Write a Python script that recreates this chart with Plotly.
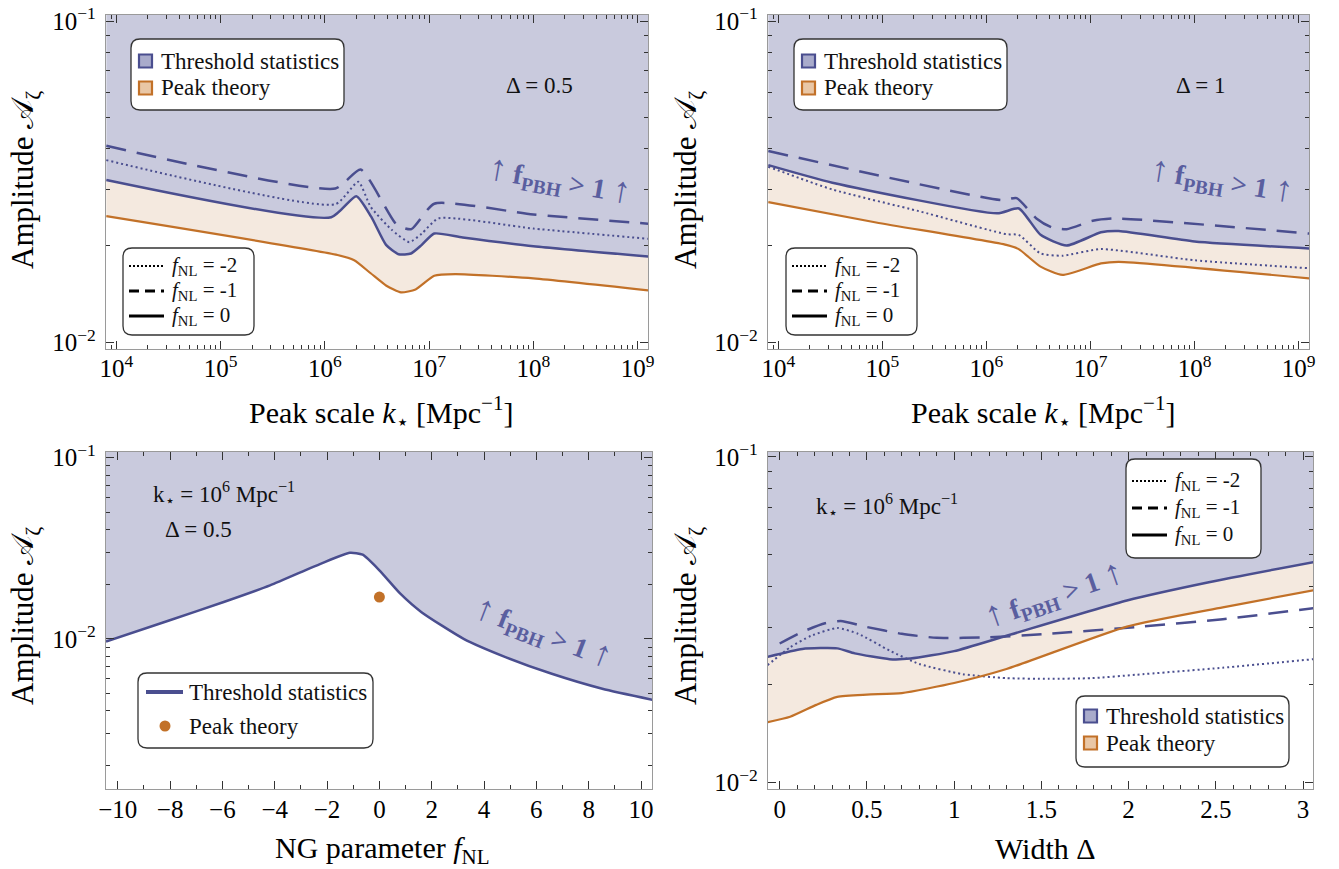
import plotly.graph_objects as go

W, H = 1339, 869
FONT = "Liberation Serif, DejaVu Serif, serif"

BLUE = "#4a4e8f"
LAV = "#c9cadd"
ORANGE = "#c27128"
PEACH = "#f4e9df"
TXT_BLUE = "#5a5e9f"
TOP = 1.0  # ceiling used to close the excluded (f_PBH > 1) region

# ---------------- top-left: Delta = 0.5 ----------------
k_a_f0 = [8.0e3, 1.15e6, 2.0e6, 2.78e6, 3.86e6, 5.1e6, 6.7e6, 8.5e6, 1.12e7, 2.1e7, 1.0e8, 1.26e9]
A_a_f0 = [0.0320, 0.0245, 0.0285, 0.0246, 0.0201, 0.0188, 0.0189, 0.0201, 0.0218, 0.0212, 0.0199, 0.0185]
k_a_fm2 = [8.0e3, 1.26e6, 2.09e6, 2.75e6, 4.37e6, 6.46e6, 8.5e6, 1.23e7, 1.0e8, 1.26e9]
A_a_fm2 = [0.0369, 0.0269, 0.0316, 0.0264, 0.0224, 0.0205, 0.0218, 0.0243, 0.0226, 0.0210]
k_a_fm1 = [8.0e3, 1.26e6, 2.2e6, 4.9e6, 6.76e6, 1.12e7, 1.0e8, 1.26e9]
A_a_fm1 = [0.0409, 0.0301, 0.0345, 0.0232, 0.0225, 0.0270, 0.0250, 0.0234]
k_a_pk = [8.0e3, 1.32e6, 1.91e6, 2.75e6, 3.89e6, 5.37e6, 7.41e6, 1.12e7, 1.78e7, 1.0e8, 1.26e9]
A_a_pk = [0.0247, 0.0187, 0.0180, 0.0164, 0.0150, 0.0143, 0.0146, 0.0161, 0.0163, 0.0158, 0.0145]

# ---------------- top-right: Delta = 1 ----------------
k_b_f0 = [8.0e3, 3.3e4, 1.27e6, 2.05e6, 3.31e6, 5.89e6, 1.26e7, 1.86e7, 1.0e8, 1.26e9]
A_b_f0 = [0.0356, 0.0314, 0.0252, 0.0261, 0.0216, 0.0200, 0.0220, 0.0222, 0.0206, 0.0196]
k_b_fm2 = [8.0e3, 3.3e4, 2.24e5, 1.55e6, 2.04e6, 3.31e6, 5.37e6, 1.26e7, 1.0e8, 1.26e9]
A_b_fm2 = [0.0352, 0.0299, 0.0256, 0.0217, 0.0216, 0.0189, 0.0186, 0.0195, 0.0180, 0.0170]
k_b_fm1 = [8.0e3, 1.4e6, 1.95e6, 3.02e6, 4.22e6, 5.89e6, 1.05e7, 1.7e7, 1.26e9]
A_b_fm1 = [0.0394, 0.0277, 0.0281, 0.0243, 0.0228, 0.0225, 0.0239, 0.0243, 0.0218]
k_b_pk = [8.0e3, 8.7e4, 1.55e6, 2.04e6, 3.31e6, 5.37e6, 1.26e7, 1.86e7, 1.26e9]
A_b_pk = [0.0273, 0.0236, 0.0201, 0.0195, 0.0172, 0.0162, 0.0176, 0.0178, 0.0158]

# ---------------- bottom-left: vs f_NL ----------------
fnl_c = [-10.45, -8.04, -5.95, -4.18, -2.25, -1.13, -0.64, 0.0, 0.8, 1.61, 3.22, 4.82, 6.59, 8.52, 10.45]
A_c_th = [0.00966, 0.01262, 0.01596, 0.01972, 0.02594, 0.02985, 0.02911, 0.02388,
          0.01774, 0.01403, 0.01000, 0.00793, 0.00641, 0.00530, 0.00460]
fnl_c_pk = [0.0]
A_c_pk = [0.0170]

# ---------------- bottom-right: vs width Delta ----------------
d_f0 = [-0.07, 0.13, 0.33, 0.43, 0.63, 0.75, 1.0, 1.30, 1.99, 2.46, 3.06]
A_d_f0 = [0.0243, 0.0257, 0.0258, 0.0249, 0.0239, 0.0240, 0.0253, 0.0282, 0.0362, 0.0412, 0.0475]
d_pk = [-0.07, 0.06, 0.21, 0.33, 0.50, 0.70, 1.0, 1.30, 1.99, 2.54, 3.06]
A_d_pk = [0.0153, 0.0159, 0.0173, 0.0183, 0.0186, 0.0188, 0.0202, 0.0223, 0.0301, 0.0345, 0.0389]
d_fm1 = [0.0, 0.13, 0.26, 0.35, 0.50, 0.70, 0.90, 1.20, 1.54, 2.04, 2.54, 3.06]
A_d_fm1 = [0.0267, 0.0290, 0.0308, 0.0313, 0.0300, 0.0286, 0.0278, 0.0279, 0.0286, 0.0300, 0.0317, 0.0343]
d_fm2 = [-0.07, 0.06, 0.18, 0.33, 0.45, 0.63, 0.80, 1.05, 1.30, 1.54, 1.79, 2.04, 2.54, 3.06]
A_d_fm2 = [0.0229, 0.0260, 0.0282, 0.0298, 0.0286, 0.0254, 0.0231, 0.0215, 0.0209,
           0.0208, 0.0209, 0.0214, 0.0225, 0.0239]

# tick decades
K_DECADES = [4, 5, 6, 7, 8, 9]
A_DECADES = [-2, -1]

fig = go.Figure()
SMOOTH = 0.55


def trace(x, y, xa, ya, **kw):
    fig.add_trace(go.Scatter(x=x, y=y, mode="lines", hoverinfo="skip", showlegend=False,
                             xaxis=xa, yaxis=ya, **kw))


def region_above(x, y, xa, ya):
    # invisible ceiling, then the threshold curve filled up to it
    trace(x, [TOP] * len(x), xa, ya, line=dict(width=0))
    trace(x, y, xa, ya, line=dict(width=0, shape="spline", smoothing=SMOOTH),
          fill="tonexty", fillcolor=LAV)


def band(x1, y1, x2, y2, xa, ya):
    trace(x1, y1, xa, ya, line=dict(width=0, shape="spline", smoothing=SMOOTH))
    trace(x2, y2, xa, ya, line=dict(width=0, shape="spline", smoothing=SMOOTH),
          fill="tonexty", fillcolor=PEACH)


def curve(x, y, xa, ya, color, width, dash="solid"):
    trace(x, y, xa, ya, line=dict(color=color, width=width, dash=dash,
                                  shape="spline", smoothing=SMOOTH))


DOT = "2px,3px"
DASH = "20px,11px"

# panel a
region_above(k_a_f0, A_a_f0, "x", "y")
band(k_a_f0, A_a_f0, k_a_pk, A_a_pk, "x", "y")
curve(k_a_fm2, A_a_fm2, "x", "y", BLUE, 2, DOT)
curve(k_a_fm1, A_a_fm1, "x", "y", BLUE, 2.5, DASH)
curve(k_a_f0, A_a_f0, "x", "y", BLUE, 2.5)
curve(k_a_pk, A_a_pk, "x", "y", ORANGE, 2.2)

# panel b
region_above(k_b_f0, A_b_f0, "x2", "y2")
band(k_b_f0, A_b_f0, k_b_pk, A_b_pk, "x2", "y2")
curve(k_b_fm2, A_b_fm2, "x2", "y2", BLUE, 2, DOT)
curve(k_b_fm1, A_b_fm1, "x2", "y2", BLUE, 2.5, DASH)
curve(k_b_f0, A_b_f0, "x2", "y2", BLUE, 2.5)
curve(k_b_pk, A_b_pk, "x2", "y2", ORANGE, 2.2)

# panel c
region_above(fnl_c, A_c_th, "x3", "y3")
curve(fnl_c, A_c_th, "x3", "y3", BLUE, 2.5)
fig.add_trace(go.Scatter(x=fnl_c_pk, y=A_c_pk, mode="markers",
                         marker=dict(color=ORANGE, size=11), hoverinfo="skip",
                         showlegend=False, xaxis="x3", yaxis="y3"))

# panel d
region_above(d_f0, A_d_f0, "x4", "y4")
band(d_f0, A_d_f0, d_pk, A_d_pk, "x4", "y4")
curve(d_fm2, A_d_fm2, "x4", "y4", BLUE, 2, DOT)
curve(d_fm1, A_d_fm1, "x4", "y4", BLUE, 2.5, DASH)
curve(d_f0, A_d_f0, "x4", "y4", BLUE, 2.5)
curve(d_pk, A_d_pk, "x4", "y4", ORANGE, 2.2)


def px(x):
    return x / W


def py(y):
    return 1 - y / H


def pow10_ticks(exps):
    vals = [10.0 ** e for e in exps]
    labels = ["10<sup>" + str(e).replace("-", "−") + "</sup>" for e in exps]
    return vals, labels


def log_minor_vals(lo, hi):
    return [m * 10.0 ** e for e in range(lo, hi) for m in range(2, 10)]


minor_base = dict(ticks="inside", ticklen=4, tickwidth=1, tickcolor="#333", showgrid=False)
base_axis = dict(showline=True, linecolor="#9a9a9a", linewidth=1.3, mirror="allticks",
                 ticks="inside", ticklen=8, tickwidth=1, tickcolor="#333",
                 showgrid=False, zeroline=False, automargin=False,
                 tickfont=dict(family=FONT, size=25, color="black"),
                 minor=minor_base)

kv, kt = pow10_ticks(K_DECADES)
av, at = pow10_ticks(A_DECADES)

logx = dict(base_axis, type="log", range=[3.9, 9.1], tickmode="array", tickvals=kv, ticktext=kt,
            ticklabelstandoff=-3,
            minor=dict(minor_base, tickmode="array", tickvals=log_minor_vals(3, 10)))
logy = dict(base_axis, type="log", tickmode="array", tickvals=av, ticktext=at,
            ticklabelstandoff=4,
            minor=dict(minor_base, tickmode="array", tickvals=log_minor_vals(-3, -1)))

fig.update_layout(
    width=W, height=H, autosize=False,
    margin=dict(l=0, r=0, t=0, b=0),
    paper_bgcolor="white", plot_bgcolor="white",
    showlegend=False,
    font=dict(family=FONT, color="black"),
    xaxis=dict(logx, domain=[px(106), px(648)], anchor="y"),
    yaxis=dict(logy, range=[-2.021, -0.981], domain=[py(349), py(15)], anchor="x"),
    xaxis2=dict(logx, domain=[px(768), px(1309)], anchor="y2"),
    yaxis2=dict(logy, range=[-2.021, -0.981], domain=[py(349), py(15)], anchor="x2"),
    xaxis3=dict(base_axis, range=[-10.45, 10.42], dtick=2, tick0=0,
                minor=dict(minor_base, dtick=1), ticklabelstandoff=-2,
                domain=[px(106), px(652)], anchor="y3"),
    yaxis3=dict(logy, range=[-2.829, -0.969], domain=[py(789), py(452)], anchor="x3"),
    xaxis4=dict(base_axis, range=[-0.067, 3.057], dtick=0.5, tick0=0,
                minor=dict(minor_base, dtick=0.1), ticklabelstandoff=-2,
                domain=[px(768), px(1313)], anchor="y4"),
    yaxis4=dict(logy, range=[-2.0205, -0.985], domain=[py(789), py(452)], anchor="x4"),
)

shapes = []
ann = []


def rbox(x0, y0, x1, y1, r=9):
    pts = (f"M {px(x0 + r)},{py(y0)} L {px(x1 - r)},{py(y0)} Q {px(x1)},{py(y0)} {px(x1)},{py(y0 + r)} "
           f"L {px(x1)},{py(y1 - r)} Q {px(x1)},{py(y1)} {px(x1 - r)},{py(y1)} "
           f"L {px(x0 + r)},{py(y1)} Q {px(x0)},{py(y1)} {px(x0)},{py(y1 - r)} "
           f"L {px(x0)},{py(y0 + r)} Q {px(x0)},{py(y0)} {px(x0 + r)},{py(y0)} Z")
    shapes.append(dict(type="path", path=pts, xref="paper", yref="paper",
                       fillcolor="white", line=dict(color="#333", width=1.3), layer="above"))


def text(x, y, s, size=23, anchor="left", color="#111", angle=0):
    ann.append(dict(x=px(x), y=py(y), xref="paper", yref="paper", text=s, showarrow=False,
                    xanchor=anchor, yanchor="middle", textangle=angle,
                    font=dict(family=FONT, size=size, color=color)))


def swatch(x, y, fill, edge, s=13):
    shapes.append(dict(type="rect", xref="paper", yref="paper", x0=px(x), x1=px(x + s),
                       y0=py(y - s / 2), y1=py(y + s / 2), fillcolor=fill,
                       line=dict(color=edge, width=2.2), layer="above"))


def sample(x0, x1, y, dash, width=3, color="black"):
    shapes.append(dict(type="line", xref="paper", yref="paper", x0=px(x0), x1=px(x1),
                       y0=py(y), y1=py(y), line=dict(color=color, width=width, dash=dash),
                       layer="above"))


FNL = ["<i>f</i><sub>NL</sub> = -2", "<i>f</i><sub>NL</sub> = -1", "<i>f</i><sub>NL</sub> = 0"]
LEG_DASH = ["2px,2px", "10px,6px", "solid"]
LEG_W = [2, 3, 3]
ARROW = "<span style='font-size:36px'>↑</span>"
PBH = ARROW + " <b>f<sub>PBH</sub> &gt; 1</b> " + ARROW
KSTAR = "k<sub>⋆</sub> = 10<sup>6</sup> Mpc<sup>−1</sup>"


def fill_legend(x0, y0, x1, y1, rows):
    rbox(x0, y0, x1, y1)
    swatch(x0 + 8, rows[0], "#a9abcb", BLUE)
    swatch(x0 + 8, rows[1], "#e9c7a6", ORANGE)
    text(x0 + 28, rows[0], "Threshold statistics")
    text(x0 + 28, rows[1], "Peak theory")


def line_legend(x0, y0, x1, y1, rows):
    rbox(x0, y0, x1, y1)
    for r, lab, d, w in zip(rows, FNL, LEG_DASH, LEG_W):
        sample(x0 + 6, x0 + 41, r, d, w)
        text(x0 + 47, r, lab, size=21)


# panel a
fill_legend(131, 39, 344, 110, [61, 88])
line_legend(123, 248, 254, 335, [266, 291, 316])
text(539, 86, "Δ = 0.5", anchor="center")
text(560, 180, PBH, size=28, anchor="center", color=TXT_BLUE, angle=10)

# panel b
fill_legend(794, 39, 1007, 110, [61, 88])
line_legend(786, 248, 917, 335, [266, 291, 316])
text(1201, 86, "Δ = 1", anchor="center")
text(1222, 180, PBH, size=28, anchor="center", color=TXT_BLUE, angle=9)

# panel c
rbox(138, 673, 373, 748)
sample(146, 183, 692, "solid", 4, BLUE)
shapes.append(dict(type="circle", xref="paper", yref="paper", x0=px(159.5), x1=px(170.5),
                   y0=py(731.5), y1=py(720.5), fillcolor=ORANGE, line=dict(width=0), layer="above"))
text(187, 692, "Threshold statistics")
text(187, 726, "Peak theory")
text(224, 493, KSTAR, size=23, anchor="center")
text(198, 529, "Δ = 0.5", anchor="center")
text(544, 632, PBH, size=28, anchor="center", color=TXT_BLUE, angle=21)

# panel d
line_legend(1126, 459, 1261, 558, [481, 508, 535])
fill_legend(1076, 696, 1289, 767, [716, 743])
text(887, 505, KSTAR, size=23, anchor="center")
text(1054, 594, PBH, size=28, anchor="center", color=TXT_BLUE, angle=-19)

# axis titles
YT = "Amplitude 𝒜<sub>ζ</sub>"
for xc, yc in [(25, 180), (688, 180), (25, 616), (688, 616)]:
    text(xc, yc, YT, size=31, anchor="center", color="black", angle=-90)
XT = "Peak scale <i>k</i><sub>⋆</sub> [Mpc<sup>−1</sup>]"
text(381, 413, XT, size=30, anchor="center", color="black")
text(1043, 413, XT, size=30, anchor="center", color="black")
text(383, 850, "NG parameter <i>f</i><sub>NL</sub>", size=30, anchor="center", color="black")
text(1045, 848, "Width Δ", size=30, anchor="center", color="black")

fig.update_layout(shapes=shapes, annotations=ann)
fig.write_html("out.html")
